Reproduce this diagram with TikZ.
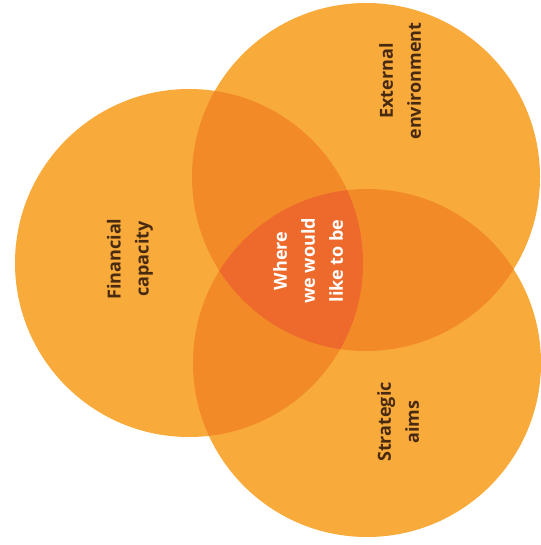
\documentclass[tikz,border=0pt]{standalone}
\usepackage{fontspec}
\setmainfont{Open Sans}
\usepackage{xcolor}
\usepackage{tikz}
\definecolor{vennbase}{RGB}{248,170,58}
\definecolor{vennpair}{RGB}{243,138,40}
\definecolor{venncore}{RGB}{238,106,44}
\definecolor{labelbrown}{RGB}{72,42,16}
\newcommand{\vennr}{174pt}

\begin{document}
\begin{tikzpicture}[x=1pt, y=-1pt,
  vennlabel/.style={rotate=90, align=center, text=labelbrown, font=\fontsize{18}{28}\selectfont\bfseries}]
\useasboundingbox (0,0) rectangle (540,545);
% Circle centres
\coordinate (fin) at (189,263);
\coordinate (ext) at (366,177);
\coordinate (str) at (367,363);
% Single circles
\fill[vennbase] (fin) circle[radius=\vennr];
\fill[vennbase] (ext) circle[radius=\vennr];
\fill[vennbase] (str) circle[radius=\vennr];
% Pairwise overlaps
\begin{scope}
\clip (fin) circle[radius=\vennr];
\fill[vennpair] (ext) circle[radius=\vennr];
\fill[vennpair] (str) circle[radius=\vennr];
\end{scope}
\begin{scope}
\clip (ext) circle[radius=\vennr];
\fill[vennpair] (str) circle[radius=\vennr];
\end{scope}
% Triple overlap
\begin{scope}
\clip (fin) circle[radius=\vennr];
\clip (ext) circle[radius=\vennr];
\fill[venncore] (str) circle[radius=\vennr];
\end{scope}
% Labels
\node[vennlabel] (fintxt) at (130,259) {Financial\\capacity};
\node[vennlabel] (exttxt) at (400,81) {External\\environment};
\node[vennlabel] (strtxt) at (398,422) {Strategic\\aims};
\node[vennlabel, text=white] (coretxt) at (308,261) {Where\\we would\\like to be};
\end{tikzpicture}
\end{document}
